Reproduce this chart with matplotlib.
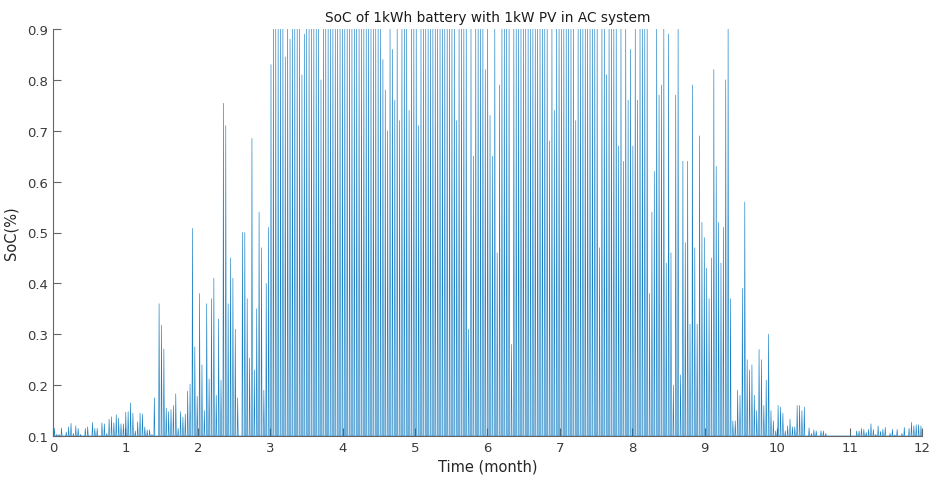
import numpy as np
import matplotlib
matplotlib.use("Agg")
import matplotlib.pyplot as plt

# Daily peak state of charge (fraction), one list per month
m01 = [0.115, 0.103, 0.103, 0.116, 0.10, 0.108, 0.118, 0.125, 0.105, 0.12, 0.115, 0.103, 0.10,
       0.115, 0.118, 0.10, 0.127, 0.115, 0.115, 0.10, 0.126, 0.124, 0.105, 0.133, 0.138, 0.126,
       0.142, 0.135, 0.124, 0.124, 0.147]
m02 = [0.148, 0.165, 0.145, 0.11, 0.128, 0.145, 0.143, 0.118, 0.112, 0.112, 0.103, 0.175, 0.10,
       0.36, 0.318, 0.271, 0.155, 0.148, 0.152, 0.16, 0.183, 0.115, 0.148, 0.137, 0.143, 0.188,
       0.202, 0.508]
m03 = [0.275, 0.178, 0.38, 0.24, 0.15, 0.36, 0.212, 0.37, 0.41, 0.18, 0.33, 0.21, 0.754, 0.71,
       0.36, 0.45, 0.41, 0.31, 0.175, 0.10, 0.50, 0.50, 0.37, 0.253, 0.685, 0.23, 0.35, 0.54,
       0.47, 0.19, 0.40]
m04 = [0.51, 0.83, 0.9, 0.9, 0.9, 0.9, 0.9, 0.845, 0.9, 0.88, 0.9, 0.9, 0.9, 0.9, 0.81, 0.89,
       0.9, 0.9, 0.9, 0.9, 0.9, 0.9, 0.80, 0.9, 0.9, 0.9, 0.9, 0.9, 0.9, 0.9]
m05 = [0.9, 0.9, 0.9, 0.9, 0.9, 0.9, 0.9, 0.9, 0.9, 0.9, 0.9, 0.9, 0.9, 0.9, 0.9, 0.9, 0.9, 0.9,
       0.84, 0.78, 0.70, 0.9, 0.86, 0.76, 0.9, 0.72, 0.9, 0.9, 0.9, 0.74, 0.9]
m06 = [0.9, 0.9, 0.71, 0.9, 0.9, 0.9, 0.9, 0.9, 0.9, 0.9, 0.9, 0.9, 0.9, 0.9, 0.9, 0.9, 0.9, 0.9,
       0.72, 0.9, 0.9, 0.9, 0.9, 0.31, 0.9, 0.65, 0.9, 0.9, 0.9, 0.9]
m07 = [0.82, 0.9, 0.73, 0.65, 0.9, 0.46, 0.79, 0.9, 0.9, 0.9, 0.9, 0.28, 0.9, 0.9, 0.9, 0.9,
       0.9, 0.9, 0.9, 0.9, 0.9, 0.9, 0.9, 0.9, 0.9, 0.9, 0.9, 0.68, 0.9, 0.74, 0.9]
m08 = [0.9, 0.9, 0.9, 0.9, 0.9, 0.9, 0.9, 0.72, 0.9, 0.9, 0.9, 0.9, 0.9, 0.9, 0.9, 0.9, 0.9,
       0.47, 0.9, 0.9, 0.81, 0.9, 0.9, 0.9, 0.9, 0.67, 0.9, 0.64, 0.9, 0.76, 0.86]
m09 = [0.67, 0.9, 0.76, 0.9, 0.9, 0.9, 0.9, 0.38, 0.54, 0.62, 0.9, 0.77, 0.79, 0.9, 0.44, 0.89,
       0.46, 0.20, 0.77, 0.9, 0.22, 0.64, 0.48, 0.64, 0.32, 0.79, 0.47, 0.32, 0.69, 0.52]
m10 = [0.49, 0.43, 0.37, 0.45, 0.82, 0.63, 0.52, 0.44, 0.51, 0.80, 0.9, 0.37, 0.13, 0.13, 0.19,
       0.18, 0.39, 0.56, 0.25, 0.23, 0.24, 0.18, 0.15, 0.27, 0.25, 0.16, 0.21, 0.30, 0.15, 0.13,
       0.11]
m11 = [0.16, 0.157, 0.145, 0.11, 0.12, 0.133, 0.118, 0.118, 0.16, 0.16, 0.15, 0.157, 0.10,
       0.116, 0.105, 0.112, 0.11, 0.10, 0.11, 0.11, 0.105, 0.10, 0.10, 0.10, 0.10, 0.10, 0.10,
       0.10, 0.10, 0.10]
m12 = [0.10, 0.10, 0.10, 0.11, 0.11, 0.115, 0.113, 0.107, 0.113, 0.124, 0.113, 0.103, 0.12,
       0.109, 0.113, 0.117, 0.10, 0.105, 0.113, 0.102, 0.113, 0.10, 0.105, 0.117, 0.10, 0.115,
       0.127, 0.12, 0.122, 0.122, 0.12]

initial_soc = 0.5
min_soc = 0.1
title = "SoC of 1kWh battery with 1kW PV in AC system"
x_label = "Time (month)"
y_label = "SoC(%)"
x_ticks = list(range(0, 13))
y_ticks = [0.1, 0.2, 0.3, 0.4, 0.5, 0.6, 0.7, 0.8, 0.9]

peaks = m01 + m02 + m03 + m04 + m05 + m06 + m07 + m08 + m09 + m10 + m11 + m12

# hourly-resolution trace: night at minimum, charge midday, discharge in evening
hours = [0.0, 6.0]
soc = [initial_soc, min_soc]
for d, p in enumerate(peaks):
    base = d * 24.0
    hours += [base + 9.0, base + 13.5, base + 19.0, base + 24.0]
    soc += [min_soc, p, min_soc, min_soc]
hours = np.array(hours)
months = hours / 730.0

fig = plt.figure(figsize=(9.31, 4.81), dpi=100)
ax = fig.add_axes([53 / 931, 1 - 437 / 481, 869 / 931, 407 / 481])
ax.plot(months, soc, color="#0072BD", lw=0.45, alpha=0.9)
ax.set_xlim(0, 12)
ax.set_ylim(0.1, 0.9)
ax.set_xticks(x_ticks)
ax.set_xticklabels([str(t) for t in x_ticks])
ax.set_yticks(y_ticks)
ax.set_yticklabels([f"{t:.1f}" for t in y_ticks])
for s in ["top", "right"]:
    ax.spines[s].set_visible(False)
for s in ["left", "bottom"]:
    ax.spines[s].set_color("#666666")
    ax.spines[s].set_linewidth(0.8)
ax.tick_params(direction="in", length=5.5, width=0.8, color="#666666",
               labelcolor="#3a3a3a", labelsize=9.5)
ax.set_title(title, fontsize=9.8, color="#1a1a1a", pad=6)
ax.set_xlabel(x_label, fontsize=10.5, color="#262626", labelpad=3)
ax.set_ylabel(y_label, fontsize=10.5, color="#262626", labelpad=6)
fig.savefig("out.png", dpi=100)
